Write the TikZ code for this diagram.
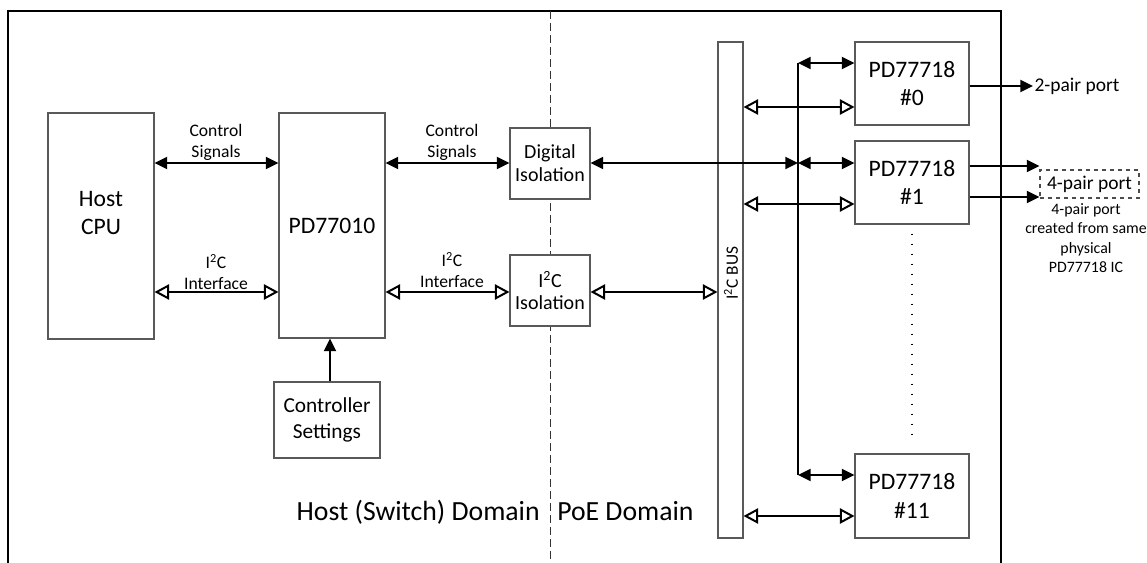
\documentclass[tikz,border=0pt]{standalone}
\usepackage{fontspec}
\setmainfont{Carlito}
\usetikzlibrary{arrows.meta}
\newcommand{\fs}[2]{\fontsize{#1}{#2}\selectfont}
\tikzset{
  box/.style={draw=black!65, line width=0.8pt, fill=white, align=center, inner sep=0pt},
  conn/.style={line width=1.5pt},
  fa/.style={conn, {Triangle[length=9.5pt,width=9pt]}-{Triangle[length=9.5pt,width=9pt]}},
  fone/.style={conn, -{Triangle[length=9.5pt,width=9pt]}},
  oa/.style={conn, {Triangle[open,length=11pt,width=11.5pt]}-{Triangle[open,length=11pt,width=11.5pt]}},
  lbl/.style={align=center, inner sep=0pt, font=\fs{13.2}{15.75}},
  bigtxt/.style={font=\fs{17.7}{21.5}},
  domline/.style={draw=black!80, line width=0.75pt, dash pattern=on 6pt off 3pt},
  dotline/.style={line width=1.1pt, dash pattern=on 1.1pt off 6.4pt},
}
\begin{document}
\begin{tikzpicture}[x=0.75pt, y=-0.75pt]
\useasboundingbox (0,0) rectangle (1147,563);
% frame
\coordinate (fbl) at (8,563); \coordinate (ftl) at (8,11);
\coordinate (ftr) at (1001,11); \coordinate (fbr) at (1001,563);
\draw[line width=2.2pt] (fbl) -- (ftl) -- (ftr) -- (fbr);
% domain separator
\coordinate (dtop) at (550,11); \coordinate (dbot) at (550,563);
\draw[domline] (dtop) -- (dbot);

% boxes
\node[box, bigtxt, minimum width=79.5pt, minimum height=169.5pt] (cpu) at (101,226) {};
\node[bigtxt, align=center, inner sep=0pt] (cpulbl) at (101,213) {Host\\CPU};
\node[box, bigtxt, minimum width=79.5pt, minimum height=168.75pt] (pd) at (332,225.5) {PD77010};
\node[box, font=\fs{16}{19}, minimum width=79.5pt, minimum height=57pt] (ctrl) at (327,420) {Controller\\Settings};
\node[box, font=\fs{15}{17.25}, minimum width=60pt, minimum height=53.25pt] (iso1) at (550,163.5) {Digital\\Isolation};
\node[box, font=\fs{15}{16.5}, minimum width=60pt, minimum height=53.25pt] (iso2) at (550,290.5) {I\textsuperscript{2}C\\Isolation};
\node[box, minimum width=18.75pt, minimum height=372pt] (bus) at (730.5,290) {};
\node[rotate=90, font=\fs{13}{15}, inner sep=0pt] (buslbl) at (731,273) {I\textsuperscript{2}C BUS};
\node[box, bigtxt, minimum width=85.5pt, minimum height=62.25pt] (pd0) at (912,83.5) {PD77718\\\#0};
\node[box, bigtxt, minimum width=85.5pt, minimum height=62.25pt] (pd1) at (912,182.5) {PD77718\\\#1};
\node[box, bigtxt, minimum width=85.5pt, minimum height=63pt] (pd11) at (912,496) {PD77718\\\#11};

% labels
\node[lbl] (cs1) at (216,142.5) {Control\\Signals};
\node[lbl] (ic1) at (216,272) {I\textsuperscript{2}C\\Interface};
\node[lbl] (cs2) at (452,142.5) {Control\\Signals};
\node[lbl] (ic2) at (452,270) {I\textsuperscript{2}C\\Interface};
\node[anchor=base east, font=\fs{20.8}{24}, inner sep=0pt] (hd) at (540,520) {Host (Switch) Domain};
\node[anchor=base west, font=\fs{20.8}{24}, inner sep=0pt] (pd2) at (557,520) {PoE Domain};

% helper rows
\coordinate (y163) at (0,163);
\coordinate (y292) at (0,292);
\coordinate (vx) at (798,0);
\coordinate (v0) at (798,63);
\coordinate (v11) at (798,475);
\coordinate (y107) at (0,107);
\coordinate (y204) at (0,204);
\coordinate (y516) at (0,516);

% left side connectors
\draw[fa] (cpu.east |- y163) -- (pd.west |- y163);
\draw[oa] (cpu.east |- y292) -- (pd.west |- y292);
\draw[fa] (pd.east |- y163) -- (iso1.west |- y163);
\draw[oa] (pd.east |- y292) -- (iso2.west |- y292);
\draw[fone] (ctrl.north -| 330,0) -- (pd.south -| 330,0);

% isolation to bus
\draw[fa] (iso1.east |- y163) -- (vx |- y163);
\draw[oa] (iso2.east |- y292) -- (bus.west |- y292);

% vertical control line
\draw[conn] (v0) -- (v11);
\draw[fa] (v0) -- (pd0.west |- v0);
\draw[fa] (vx |- y163) -- (pd1.west |- y163);
\draw[fa] (v11) -- (pd11.west |- v11);

% I2C bus to PDs
\draw[oa] (bus.east |- y107) -- (pd0.west |- y107);
\draw[oa] (bus.east |- y204) -- (pd1.west |- y204);
\draw[oa] (bus.east |- y516) -- (pd11.west |- y516);

% dots
\draw[dotline, shorten <=6.75pt, shorten >=8pt] (pd1.south) -- (pd11.north);

% ports
\node[anchor=west, font=\fs{14.6}{17}, inner sep=1pt] (p2) at (1033,86) {2-pair port};
\draw[fone] (pd0.east |- p2.west) -- (p2.west);
\node[draw=black!70, line width=0.8pt, dashed, font=\fs{14.6}{17}, minimum width=74.25pt, minimum height=21pt, inner sep=0pt] (p4) at (1089.5,184) {4-pair port};
\coordinate (y166) at (0,166);
\coordinate (y197) at (0,197);
\draw[fone] (pd1.east |- y166) -- (p4.west |- y166);
\draw[fone] (pd1.east |- y197) -- (p4.west |- y197);
\node[align=center, font=\fs{11.9}{14.6}, inner sep=0pt] (note) at (1086,238) {4-pair port\\created from same\\physical\\PD77718 IC};
\end{tikzpicture}
\end{document}
